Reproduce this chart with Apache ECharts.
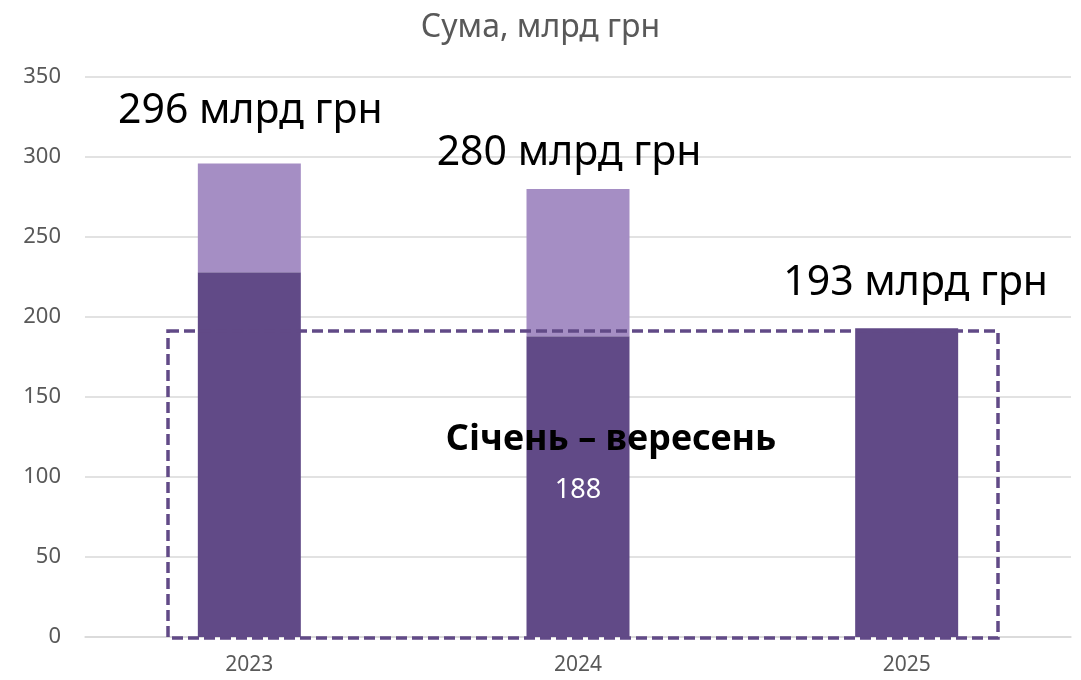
<!DOCTYPE html>
<html>
<head>
<meta charset="utf-8">
<script src="https://cdn.jsdelivr.net/npm/echarts@6/dist/echarts.min.js"></script>
<style>
  html, body { margin: 0; padding: 0; background: #fff; }
  #chart { width: 1081px; height: 680px; }
</style>
</head>
<body>
<div id="chart"></div>
<script>
const years = ['2023', '2024', '2025']
const janSep = [228, 188, 193]
const rest = [68, 92, 0]
const totals = [296, 280, 193]

const dark = '#614a87'
const light = '#a58ec4'
const font = '"Noto Sans", "Open Sans", sans-serif'

// offsets of the big total labels, as on the original slide
const labelOffsets = [[1, -27], [-9, -10], [9, -19]]

const chart = echarts.init(document.getElementById('chart'))

chart.setOption({
  animation: false,
  textStyle: { fontFamily: font },
  title: {
    text: 'Сума, млрд грн',
    left: 'center',
    top: 7,
    textStyle: { fontSize: 32, fontWeight: 'normal', color: '#595959', fontFamily: font }
  },
  grid: { left: 85, right: 10, top: 77, bottom: 43 },
  xAxis: {
    type: 'category',
    data: years,
    axisLine: { lineStyle: { color: '#d9d9d9', width: 1.5 } },
    axisTick: { show: false },
    axisLabel: { color: '#595959', fontSize: 21, margin: 18 }
  },
  yAxis: {
    type: 'value',
    min: 0,
    max: 350,
    interval: 50,
    axisLine: { show: false },
    axisTick: { show: false },
    splitLine: { lineStyle: { color: '#d9d9d9', width: 1.5 } },
    axisLabel: { color: '#595959', fontSize: 22, margin: 24 }
  },
  series: [
    {
      name: 'Січень – вересень',
      type: 'bar',
      stack: 'sum',
      barWidth: 103,
      itemStyle: { color: dark },
      data: janSep.map((v, i) => ({
        value: v,
        label: {
          show: i === 1,
          position: 'inside',
          color: '#fff',
          fontSize: 27,
          offset: [0, 4]
        }
      }))
    },
    {
      name: 'Жовтень – грудень',
      type: 'bar',
      stack: 'sum',
      barWidth: 103,
      itemStyle: { color: light },
      data: rest.map((v, i) => ({
        value: v,
        label: {
          show: true,
          position: 'top',
          formatter: totals[i] + ' млрд грн',
          color: '#000',
          fontSize: 41,
          offset: labelOffsets[i]
        }
      }))
    }
  ],
  graphic: [
    {
      type: 'rect',
      z: 100,
      shape: { x: 168, y: 331, width: 830, height: 307 },
      style: { fill: 'none', stroke: dark, lineWidth: 3.5, lineDash: [11, 5] }
    },
    {
      type: 'text',
      z: 100,
      x: 611,
      y: 440,
      style: {
        text: 'Січень – вересень',
        font: 'bold 36px ' + font,
        fill: '#000',
        align: 'center',
        verticalAlign: 'middle'
      }
    }
  ]
})
</script>
</body>
</html>
